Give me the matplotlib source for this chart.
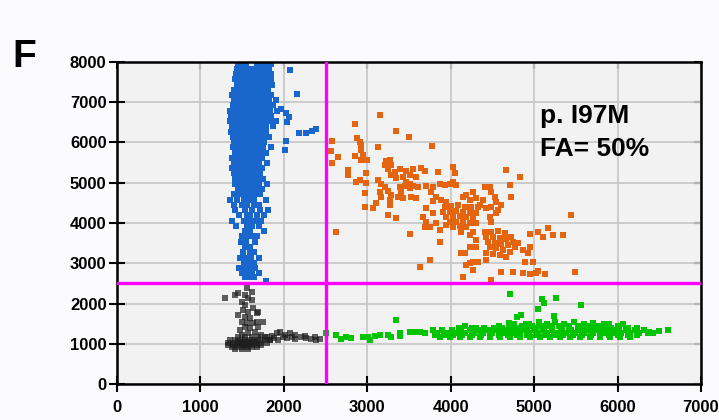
import matplotlib
matplotlib.use("Agg")
import matplotlib.pyplot as plt

plt.rcParams['font.family'] = ['Liberation Sans', 'DejaVu Sans']
plt.rcParams['font.weight'] = 'bold'

# ---- data (channel 1 amplitude on x, channel 2 on y) ----
x_ticks = [0, 1000, 2000, 3000, 4000, 5000, 6000, 7000]
y_ticks = [0, 1000, 2000, 3000, 4000, 5000, 6000, 7000, 8000]
threshold_x = 2500
threshold_y = 2500
label_line1 = "p. I97M"
label_line2 = "FA= 50%"

# blue droplets (ch2 positive only), dense column read row by row: (y, [x...])
blue_rows = [
    (7960, [1450, 1500, 1550, 1680, 1730, 1790, 1850]),
    (7830, [1440, 1490, 1540, 1600, 1650, 1700, 1760, 1820]),
    (7700, [1430, 1480, 1530, 1580, 1630, 1690, 1740, 1800, 1850]),
    (7570, [1420, 1470, 1520, 1570, 1620, 1670, 1720, 1780, 1840]),
    (7440, [1440, 1490, 1540, 1590, 1640, 1690, 1740, 1800, 1860]),
    (7310, [1400, 1450, 1500, 1550, 1600, 1650, 1700, 1750, 1810]),
    (7180, [1380, 1430, 1480, 1530, 1580, 1630, 1680, 1730, 1790, 1850]),
    (7050, [1400, 1450, 1500, 1550, 1600, 1650, 1700, 1760, 1820, 1900]),
    (6920, [1390, 1440, 1490, 1540, 1590, 1640, 1690, 1740, 1800, 1870]),
    (6790, [1360, 1410, 1460, 1510, 1560, 1610, 1660, 1710, 1770, 1830, 1920]),
    (6660, [1370, 1420, 1470, 1520, 1570, 1620, 1670, 1720, 1780, 1850]),
    (6530, [1360, 1410, 1460, 1510, 1560, 1610, 1660, 1710, 1770, 1840, 1910]),
    (6400, [1380, 1430, 1480, 1530, 1580, 1630, 1680, 1730, 1790, 1870]),
    (6270, [1370, 1420, 1470, 1520, 1570, 1620, 1670, 1720, 1790]),
    (6140, [1390, 1440, 1490, 1540, 1590, 1640, 1690, 1750, 1820]),
    (6010, [1400, 1450, 1500, 1550, 1600, 1650, 1700, 1760]),
    (5880, [1390, 1440, 1490, 1540, 1590, 1640, 1690, 1750, 1840]),
    (5750, [1410, 1460, 1510, 1560, 1610, 1660, 1710, 1780]),
    (5620, [1380, 1430, 1480, 1530, 1580, 1630, 1680, 1740]),
    (5490, [1400, 1450, 1500, 1550, 1600, 1650, 1700, 1800]),
    (5360, [1380, 1430, 1480, 1530, 1580, 1630, 1690, 1740]),
    (5230, [1400, 1450, 1500, 1550, 1600, 1650, 1720]),
    (5100, [1420, 1470, 1520, 1570, 1620, 1680, 1750]),
    (4970, [1420, 1480, 1540, 1600, 1650, 1700, 1800]),
    (4840, [1450, 1510, 1560, 1620, 1680, 1740]),
    (4710, [1400, 1470, 1540, 1600, 1660, 1720]),
    (4580, [1350, 1440, 1520, 1580, 1640, 1790]),
    (4450, [1400, 1500, 1560, 1640, 1700]),
    (4320, [1420, 1540, 1620, 1720, 1810]),
    (4190, [1460, 1560, 1600, 1680, 1760]),
    (4060, [1380, 1520, 1580, 1650, 1730]),
    (3930, [1430, 1560, 1620, 1700]),
    (3800, [1530, 1590, 1760]),
    (3670, [1500, 1560, 1620, 1680]),
    (3540, [1490, 1550, 1660]),
    (3400, [1530, 1600]),
    (3270, [1510, 1590, 1640]),
    (3140, [1480, 1550, 1610, 1700]),
    (3010, [1520, 1580, 1640]),
    (2880, [1460, 1540, 1600, 1650]),
    (2760, [1500, 1560, 1620, 1700]),
    (2650, [1540, 1600, 1640]),
]
blue_extra = [
    (2072, 7800), (2155, 7200), (1964, 6830), (2024, 6730), (2060, 6630),
    (2036, 6510), (2180, 6240), (2270, 6240), (2340, 6280), (2380, 6330),
    (2024, 6040), (2012, 5810), (1780, 2560),
]

# orange droplets (double positive)
orange_pts = [
    (3157, 6683), (2850, 6460), (3349, 6286), (3497, 6129), (2582, 6038),
    (3129, 5880), (3776, 5913), (2563, 5789), (2582, 5499), (2650, 5632),
    (2878, 6104), (2910, 6021), (2930, 5938), (2930, 5814), (2950, 5690),
    (2930, 5566), (2998, 5566), (2850, 5665), (2982, 5251), (2770, 5317),
    (2770, 5193), (2910, 5069), (2870, 5027), (2990, 4986), (2970, 4738),
    (2970, 4406), (3070, 4365), (3109, 4489),
    (3221, 5541), (3277, 5566), (3209, 5441), (3289, 5441), (3249, 5342),
    (3329, 5276), (3389, 5342), (3469, 5301), (3549, 5334), (3648, 5359),
    (3688, 5301), (3509, 5193), (3588, 5152), (3429, 5152), (3349, 5110),
    (3289, 5193), (3469, 5027), (3509, 4969), (3549, 4920), (3608, 4887),
    (3509, 4862), (3449, 4920), (3129, 5069), (3169, 4969), (3209, 4887),
    (3389, 4887), (3409, 4779), (3369, 4655), (3429, 4613), (3529, 4638),
    (3588, 4613), (3249, 4804), (3289, 4696), (3269, 4572), (3169, 4655),
    (3149, 4779), (3269, 4448), (3249, 4199), (3349, 4117),
    (3708, 4920), (3788, 4887), (3868, 4969), (3928, 4936), (3988, 4969),
    (3848, 5276), (4028, 5400), (4048, 5251), (4028, 5027), (4067, 4945),
    (3768, 4762), (3828, 4655), (3788, 4555), (3888, 4572), (3948, 4522),
    (3708, 4365), (3788, 4257),
    (3928, 4406), (4008, 4423), (4087, 4448), (4167, 4406), (4247, 4390), (4327, 4406),
    (3908, 4282), (3988, 4282), (4067, 4307), (4147, 4282), (4227, 4257), (4307, 4241),
    (3948, 4158), (4028, 4158), (4107, 4175), (4187, 4141), (4267, 4117),
    (3988, 4034), (4067, 4034), (4147, 4059), (4227, 4009), (4307, 3992),
    (4028, 3910), (4107, 3926), (4187, 3893), (3948, 3951),
    (4147, 4655), (4227, 4572), (4307, 4613), (4387, 4572), (4347, 4448),
    (4427, 4365), (4487, 4406), (4267, 4779), (4187, 4696), (4407, 4903),
    (4467, 4887), (4487, 4762), (4527, 4655), (4547, 4531), (4666, 5317),
    (4826, 5152), (4706, 4945), (4726, 4655), (4606, 4448), (4566, 4324),
    (4467, 4158), (4487, 4034), (4547, 4241), (3668, 4158), (3708, 4034),
    (3748, 3910), (3828, 3992), (3688, 3893), (3868, 3827), (3509, 3727),
    (3868, 3537), (3748, 3082), (3628, 2916), (4127, 3785), (4227, 3703),
    (4267, 3785), (4307, 3578), (4307, 3413), (4227, 3413),
    (4407, 3785), (4487, 3785), (4566, 3810), (4646, 3744), (4726, 3661),
    (4427, 3661), (4507, 3645), (4586, 3620), (4666, 3595), (4746, 3537), (4806, 3496),
    (4447, 3537), (4527, 3512), (4606, 3479), (4686, 3446), (4766, 3413),
    (4467, 3396), (4547, 3371), (4626, 3330), (4706, 3289),
    (4427, 3264), (4507, 3231), (4586, 3198), (4666, 3164),
    (4866, 3330), (4946, 3413), (4926, 3247), (4946, 3727), (5046, 3785),
    (5105, 3661), (5165, 3868), (5225, 3703), (5345, 3703), (4986, 3040),
    (4886, 3040), (5445, 4199), (4127, 3247), (4167, 3247), (4227, 2999),
    (4187, 2957), (4267, 3040), (4327, 3040), (4427, 3082), (4606, 2792),
    (4746, 2792), (4866, 2750), (4946, 2734), (5026, 2750), (5046, 2816),
    (5125, 2734), (5485, 2792), (4487, 2585), (4147, 2668), (2630, 3785),
    (4267, 2833),
]

# grey droplets (double negative)
grey_pts = [
    (1553, 2377), (1613, 2294), (1533, 2211), (1573, 2129), (1613, 2087),
    (1413, 2211), (1453, 2253), (1293, 2129), (1493, 2046), (1533, 1963),
    (1513, 1839), (1573, 1797), (1633, 1880), (1692, 1797), (1453, 1715),
    (1533, 1673), (1593, 1632), (1673, 1756), (1493, 1549), (1553, 1508),
    (1633, 1508), (1692, 1425), (1533, 1425), (1593, 1383), (1653, 1301),
    (1473, 1342), (1493, 1218), (1573, 1259), (1673, 1549), (1752, 1549),
    (1732, 1218), (1792, 1176), (1852, 1193), (1912, 1259), (1952, 1301),
    (2012, 1218), (2072, 1259), (2132, 1218), (2211, 1176), (2271, 1135),
    (2331, 1110), (2391, 1094), (2431, 1110), (2371, 1160), (1932, 1094),
    (2032, 1135), (1832, 1094), (2132, 1110), (2251, 1200), (1990, 1170),
    (2100, 1180), (1880, 1140),
    (1513, 1052), (1553, 1011), (1533, 969), (1573, 1052), (1493, 994),
    (1593, 994), (1473, 1011), (1613, 1011), (1533, 1040), (1553, 985),
    (1450, 1050), (1650, 1040), (1500, 1020), (1580, 1020), (1530, 1000),
]
grey_rows = [
    (1160, [1453, 1533, 1613, 1692, 1772]),
    (1094, [1353, 1413, 1473, 1533, 1593, 1653, 1712, 1772, 1832]),
    (1027, [1333, 1393, 1453, 1493, 1533, 1573, 1613, 1673, 1732, 1792]),
    (969, [1333, 1393, 1453, 1493, 1533, 1573, 1613, 1673, 1732]),
    (911, [1373, 1433, 1493, 1553, 1613, 1673]),
    (862, [1413, 1493, 1573]),
]

# green droplets (ch1 positive only)
green_rows = [
    (1330, [3790, 3900, 4010, 4120, 4230, 4340, 4450, 4560, 4670, 4780, 4890, 5000,
            5110, 5220, 5330, 5440, 5550, 5660, 5770, 5880, 5990, 6100, 6210, 6320]),
    (1270, [3840, 3950, 4060, 4170, 4280, 4390, 4500, 4610, 4720, 4830, 4940, 5050,
            5160, 5270, 5380, 5490, 5600, 5710, 5820, 5930, 6040, 6150, 6260, 6370]),
    (1210, [3810, 3920, 4030, 4140, 4250, 4360, 4470, 4580, 4690, 4800, 4910, 5020,
            5130, 5240, 5350, 5460, 5570, 5680, 5790, 5900, 6010, 6120, 6230]),
    (1160, [3870, 3990, 4110, 4230, 4350, 4470, 4590, 4710, 4830, 4950, 5070, 5190,
            5310, 5430, 5550, 5670, 5790, 5910, 6030, 6150]),
    (1390, [4100, 4250, 4400, 4520, 4620, 4720, 4820, 4920, 5020, 5120, 5220, 5320,
            5420, 5520, 5620, 5720, 5820, 5920, 6020, 6120, 6230]),
    (1450, [4580, 4700, 4850, 4980, 5100, 5180, 5300, 5420, 5540, 5650, 5780, 5900, 6010]),
    (1500, [4760, 4940, 5150, 5360, 5600, 5840, 6060]),
]
green_extra = [
    (2511, 1276), (2623, 1218), (2690, 1110), (2750, 1160), (2810, 1135),
    (2950, 1160), (3030, 1094), (3010, 1176), (3090, 1193), (3150, 1218),
    (3249, 1218), (3289, 1160), (3389, 1193), (3389, 1259), (3509, 1301),
    (3569, 1284), (3629, 1284), (3688, 1276),
    (4706, 2236), (5098, 2104), (5114, 2004), (5265, 2137), (5557, 1955),
    (5046, 1855), (4846, 1715), (4794, 1657), (5233, 1690), (5058, 1549),
    (3341, 1590), (4175, 1441), (4700, 1520), (4900, 1500), (5250, 1530),
    (5480, 1540), (5700, 1510), (5900, 1480), (4300, 1380),
    (6500, 1317), (6600, 1342), (6380, 1300), (6420, 1260),
]


def flatten(rows, extra):
    xs, ys = [], []
    for y, row in rows:
        xs += row
        ys += [y] * len(row)
    for x, y in extra:
        xs.append(x)
        ys.append(y)
    return xs, ys


fig = plt.figure(figsize=(7.19, 4.2), dpi=100, facecolor='#fbfbfd')
ax = fig.add_axes([117 / 719, 36 / 420, 584 / 719, 322 / 420])
ax.set_facecolor('#f2f2f2')

msize = 22
bx, by = flatten(blue_rows, blue_extra)
ax.scatter(bx, by, s=msize, marker='s', color='#1966cc', linewidths=0, zorder=2)
ox, oy = zip(*orange_pts)
ax.scatter(ox, oy, s=msize, marker='s', color='#e4640f', linewidths=0, zorder=2)
gx, gy = flatten(grey_rows, grey_pts)
ax.scatter(gx, gy, s=msize, marker='s', color='#1e1e1e', alpha=0.7, linewidths=0, zorder=2)
grx, gry = flatten(green_rows, green_extra)
ax.scatter(grx, gry, s=msize, marker='s', color='#00c400', linewidths=0, zorder=2)

# threshold lines
ax.axhline(threshold_y, color='#ff00ff', lw=2.4, zorder=3)
ax.axvline(threshold_x, color='#ff00ff', lw=2.4, zorder=3)

ax.set_xlim(0, 7000)
ax.set_ylim(0, 8000)
ax.set_xticks(x_ticks)
ax.set_yticks(y_ticks)
ax.set_xticklabels([str(v) for v in x_ticks], fontsize=12, fontweight='bold')
ax.set_yticklabels([str(v) for v in y_ticks], fontsize=12, fontweight='bold')
ax.grid(True, color='#c8c8c8', lw=1.3, zorder=0)
ax.set_axisbelow(True)

for side in ['left', 'bottom', 'top', 'right']:
    ax.spines[side].set_color('black')
    ax.spines[side].set_linewidth(1.8)

ax.tick_params(axis='both', which='major', length=11, width=1.5, color='black')
ax.tick_params(axis='y', direction='inout', pad=2)
ax.tick_params(axis='x', direction='inout', pad=6)

# short inward ticks on the top and right frame
top = ax.secondary_xaxis('top')
top.set_xticks(x_ticks)
top.tick_params(direction='in', length=5, width=1.5, labeltop=False)
top.spines['top'].set_visible(False)
right = ax.secondary_yaxis('right')
right.set_yticks(y_ticks)
right.tick_params(direction='in', length=5, width=1.5, labelright=False)
right.spines['right'].set_visible(False)

ax.text(5066, 6484, label_line1, fontsize=19, fontweight='bold', va='baseline')
ax.text(5066, 5665, label_line2, fontsize=19, fontweight='bold', va='baseline')

fig.text(12 / 719, 1 - 67 / 420, "F", fontsize=28, fontweight='bold', va='baseline')

fig.savefig("out.png", dpi=100, facecolor=fig.get_facecolor())
